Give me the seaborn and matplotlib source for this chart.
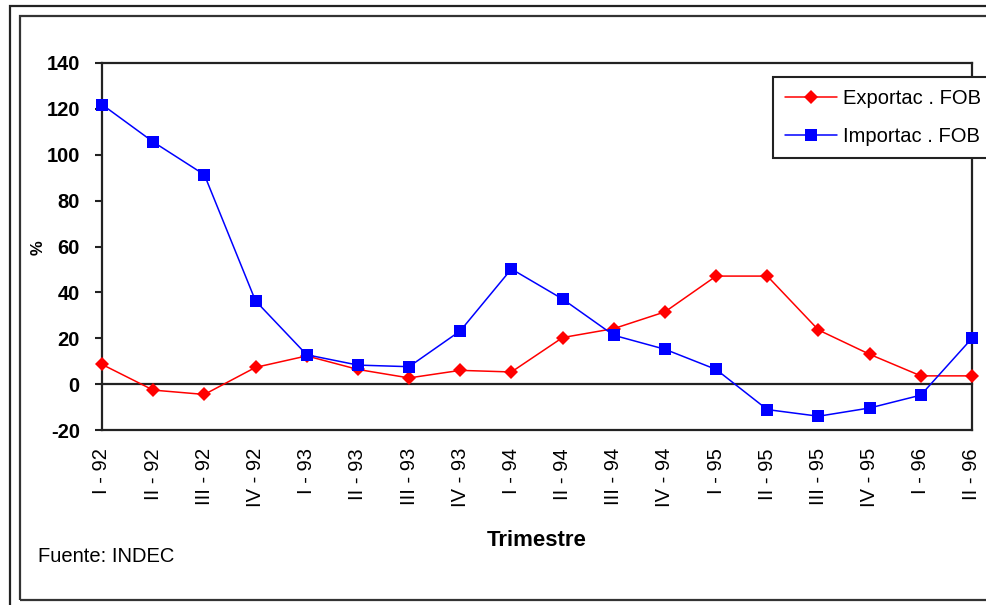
import numpy as np
import pandas as pd
import matplotlib
matplotlib.use("Agg")
import matplotlib.pyplot as plt
import seaborn as sns
from matplotlib.patches import Rectangle

# Quarterly variation (%) of Argentine exports and imports, FOB
trimestres = ["I - 92", "II - 92", "III - 92", "IV - 92",
              "I - 93", "II - 93", "III - 93", "IV - 93",
              "I - 94", "II - 94", "III - 94", "IV - 94",
              "I - 95", "II - 95", "III - 95", "IV - 95",
              "I - 96", "II - 96"]
exportac = [8.6, -2.6, -4.5, 7.3, 12.3, 6.4, 2.7, 6.0, 5.3,
            20.3, 24.2, 31.5, 47.1, 47.1, 23.6, 13.0, 3.6, 3.6]
importac = [121.9, 105.6, 91.3, 36.3, 12.8, 8.3, 7.6, 23.2, 50.2,
            37.1, 21.3, 15.2, 6.4, -11.1, -14.0, -10.4, -4.8, 20.0]
y_ticks = [-20, 0, 20, 40, 60, 80, 100, 120, 140]

sns.set_style("white")
plt.rcParams["font.family"] = ["Liberation Sans", "DejaVu Sans"]
plt.rcParams["text.color"] = "black"
plt.rcParams["xtick.labelcolor"] = "black"
plt.rcParams["ytick.labelcolor"] = "black"

df = pd.DataFrame({
    "orden": np.arange(len(trimestres)),
    "trimestre": trimestres,
    "Exportac . FOB": exportac,
    "Importac . FOB": importac,
})

W, H = 987, 605
fig = plt.figure(figsize=(W / 100, H / 100), dpi=100)
ax = fig.add_axes([102 / W, 1 - 430 / H, (972 - 102) / W, (430 - 63) / H])

sns.lineplot(data=df, x="orden", y="Exportac . FOB", ax=ax, color="#ff0000",
             marker="D", markersize=7, markeredgewidth=0, linewidth=1.1,
             label="Exportac . FOB", clip_on=False, zorder=3)
sns.lineplot(data=df, x="orden", y="Importac . FOB", ax=ax, color="#0000ff",
             marker="s", markersize=8.6, markeredgewidth=0, linewidth=1.1,
             label="Importac . FOB", clip_on=False, zorder=3)

ax.set_xlim(0, len(trimestres) - 1)
ax.set_ylim(y_ticks[0], y_ticks[-1])
ax.set_xlabel("")
ax.set_ylabel("")

frame_c = "#222222"
for side in ["left", "top", "right", "bottom"]:
    ax.spines[side].set_color(frame_c)
    ax.spines[side].set_linewidth(1.6)
# category axis crosses at zero
ax.spines["bottom"].set_position(("data", 0))
ax.set_xticks(df["orden"])
ax.tick_params(axis="x", direction="inout", length=11, width=1.5,
               color=frame_c, labelbottom=False)

ax.set_yticks(y_ticks)
ax.set_yticklabels([str(v) for v in y_ticks], fontsize=14.5, fontweight="bold",
                   color="black")
ax.tick_params(axis="y", direction="out", length=5, width=1.5,
               color=frame_c, pad=11, left=True)

# tick labels along the bottom of the plot area
sec = ax.secondary_xaxis(0)
sec.set_xticks(df["orden"], labels=df["trimestre"])
sec.tick_params(axis="x", length=0, pad=13, labelsize=14.5, labelrotation=90,
                labelcolor="black")
for lab in sec.get_xticklabels():
    lab.set_verticalalignment("top")
sec.spines["bottom"].set_color(frame_c)
sec.spines["bottom"].set_linewidth(1.6)

leg = ax.legend(loc="upper left", bbox_to_anchor=(773 / W, 1 - 77 / H),
                bbox_transform=fig.transFigure, fontsize=14.5,
                frameon=True, fancybox=False, framealpha=1,
                edgecolor=frame_c, borderaxespad=0, borderpad=0.6,
                handlelength=2.6, handletextpad=0.3, labelspacing=0.95)
leg.get_frame().set_linewidth(1.5)
leg.set_zorder(5)

fig.text(537 / W, 1 - 541 / H, "Trimestre", ha="center", va="center",
         fontsize=16, fontweight="bold")
fig.text(38 / W, 1 - 248 / H, "%", ha="center", va="center",
         rotation=90, fontsize=12, fontweight="bold")
fig.text(38 / W, 1 - 557 / H, "Fuente: INDEC", ha="left", va="center",
         fontsize=14.5)

# chart borders
fig.patches.append(Rectangle((20 / W, 1 - 600 / H), 1.0, (600 - 16) / H,
                             transform=fig.transFigure, fill=False,
                             edgecolor="#333333", linewidth=1.6))
fig.patches.append(Rectangle((10 / W, -0.05), 1.0, 1 - 6 / H + 0.05,
                             transform=fig.transFigure, fill=False,
                             edgecolor="#222222", linewidth=1.6))

fig.savefig("out.png", dpi=100, facecolor="white")
